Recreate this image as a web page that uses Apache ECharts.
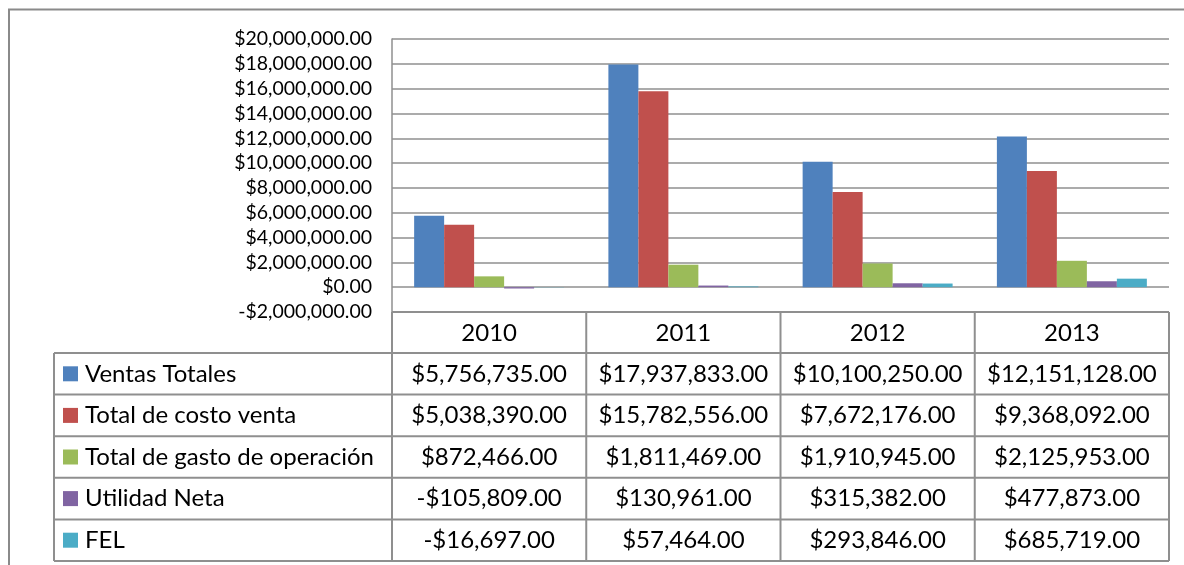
<!DOCTYPE html>
<html>
<head>
<meta charset="utf-8">
<script src="https://cdn.jsdelivr.net/npm/echarts@6/dist/echarts.min.js"></script>
<style>
html,body{margin:0;padding:0;background:#fff;}
#c{width:1184px;height:565px;}
</style>
</head>
<body>
<div id="c"></div>
<script>
// ---- data ----
var years = ['2010', '2011', '2012', '2013'];
var seriesNames = ['Ventas Totales', 'Total de costo venta', 'Total de gasto de operación', 'Utilidad Neta', 'FEL'];
var ventasTotales = [5756735, 17937833, 10100250, 12151128];
var costoVenta = [5038390, 15782556, 7672176, 9368092];
var gastoOperacion = [872466, 1811469, 1910945, 2125953];
var utilidadNeta = [-105809, 130961, 315382, 477873];
var fel = [-16697, 57464, 293846, 685719];
var yMin = -2000000, yMax = 20000000, yInterval = 2000000;
var colors = ['#4F81BD', '#C0504D', '#9BBB59', '#8064A2', '#4BACC6'];

var allSeries = [ventasTotales, costoVenta, gastoOperacion, utilidadNeta, fel];

function fmtMoney(v) {
  var neg = v < 0;
  var s = Math.abs(v).toFixed(2);
  var parts = s.split('.');
  parts[0] = parts[0].replace(/\B(?=(\d{3})+(?!\d))/g, ',');
  return (neg ? '-$' : '$') + parts[0] + '.' + parts[1];
}

var FONT = 'Lato';
var LINE = '#8f8f8f';

var chart = echarts.init(document.getElementById('c'));
var option = {
  animation: false,
  backgroundColor: '#fff',
  grid: { left: 392, right: 15, top: 39, bottom: 253, containLabel: false },
  xAxis: {
    type: 'category',
    data: years,
    axisLine: { show: false },
    axisTick: { show: false },
    axisLabel: { show: false },
    splitLine: { show: false }
  },
  yAxis: {
    type: 'value',
    min: yMin, max: yMax, interval: yInterval,
    axisLine: { show: true, lineStyle: { color: LINE, width: 1.5 } },
    axisTick: { show: false },
    splitLine: { show: true, lineStyle: { color: LINE, width: 1.5 } },
    axisLabel: {
      margin: 20,
      fontFamily: FONT, fontSize: 19.5, color: '#000',
      formatter: function (v) { return fmtMoney(v); }
    }
  },
  series: seriesNames.map(function (n, i) {
    return {
      name: n, type: 'bar', data: allSeries[i],
      barGap: '0%', barCategoryGap: '22.8%',
      itemStyle: { color: colors[i] }
    };
  })
};
chart.setOption(option);

// ---- data table below plot, positioned from the axes ----
var c0 = chart.convertToPixel({ xAxisIndex: 0 }, years[0]);
var c1 = chart.convertToPixel({ xAxisIndex: 0 }, years[1]);
var band = c1 - c0;
var tableLeft = c0 - band / 2;
var tableRight = tableLeft + band * years.length;
var yTop = chart.convertToPixel({ yAxisIndex: 0 }, yMin);
var headerH = 41;
var rowH = 41.6;
var legendLeft = 54;
var rowsTop = yTop + headerH;
var tableBottom = rowsTop + rowH * seriesNames.length;

var g = [];
function line(x1, y1, x2, y2) {
  g.push({ type: 'line', shape: { x1: x1, y1: y1, x2: x2, y2: y2 },
    style: { stroke: LINE, lineWidth: 2 }, silent: true });
}
function text(str, x, y, align) {
  g.push({ type: 'text', x: x, y: y,
    style: { text: str, fill: '#000', font: '24px ' + FONT, textAlign: align, textVerticalAlign: 'middle' },
    silent: true });
}
// outer chart border
g.push({ type: 'rect', shape: { x: 9, y: 9.5, width: 3000, height: 3000 },
  style: { fill: 'none', stroke: '#8a8a8a', lineWidth: 2 }, silent: true });
// vertical lines in header & body
for (var k = 0; k <= years.length; k++) {
  var x = tableLeft + band * k;
  line(x, yTop, x, tableBottom);
}
line(legendLeft, rowsTop, legendLeft, tableBottom);
// horizontal lines
for (var r = 0; r <= seriesNames.length; r++) {
  var y = rowsTop + rowH * r;
  line(legendLeft, y, tableRight, y);
}
line(tableLeft, yTop, tableRight, yTop);
// header labels
years.forEach(function (yr, j) {
  text(yr, tableLeft + band * (j + 0.5), yTop + headerH / 2 + 1, 'center');
});
// rows
seriesNames.forEach(function (n, i) {
  var cy = rowsTop + rowH * (i + 0.5);
  g.push({ type: 'rect', shape: { x: 63, y: cy - 7.5, width: 15, height: 15 },
    style: { fill: colors[i] }, silent: true });
  text(n, 85, cy, 'left');
  allSeries[i].forEach(function (v, j) {
    text(fmtMoney(v), tableLeft + band * (j + 0.5), cy, 'center');
  });
});
chart.setOption({ graphic: g });
</script>
</body>
</html>
